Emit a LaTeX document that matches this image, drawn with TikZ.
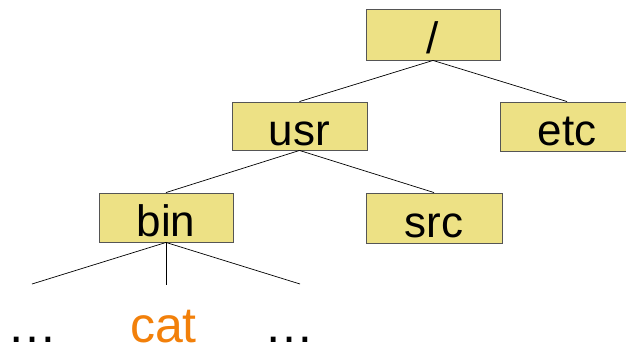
\documentclass[tikz,border=0pt]{standalone}
\usepackage{fontspec}
\setmainfont{Liberation Sans}
\definecolor{boxfill}{RGB}{237,225,133}
\definecolor{boxborder}{RGB}{85,85,85}
\definecolor{leaforange}{RGB}{242,128,10}
\begin{document}
\begin{tikzpicture}[x=1pt,y=-1pt,
  dirbox/.style={draw=boxborder, line width=0.9pt, fill=boxfill,
    minimum width=134pt, minimum height=49pt, inner sep=0pt,
    text height=38pt, text depth=0pt, font=\fontsize{44}{44}\selectfont},
  leaf/.style={inner sep=0pt, anchor=base, font=\fontsize{50}{50}\selectfont},
  edge/.style={draw=black, line width=0.7pt}]
  \useasboundingbox (0,0) rectangle (626,348);
  \clip (0,0) rectangle (626,348);

  % directory boxes
  \node[dirbox, minimum height=51pt] (root) at (433,34.5) {/};
  \node[dirbox, minimum width=135pt, minimum height=48pt] (usr) at (299.5,126) {usr};
  \node[dirbox] (etc) at (567,126.5) {etc};
  \node[dirbox] (bin) at (166,217.5) {bin};
  \node[dirbox, minimum width=136pt, minimum height=50pt] (src) at (434,218) {src};

  % open ends below bin
  \coordinate (b1) at (32,284);
  \coordinate (b2) at (166,285);
  \coordinate (b3) at (300,284);

  % entries shown under bin
  \node[leaf] (d1) at (32,342) {…};
  \node[leaf, text=leaforange] (cat) at (163.5,342) {cat};
  \node[leaf] (d2) at (289,342) {…};

  % tree edges
  \draw[edge] (root.south) -- (usr.north);
  \draw[edge] (root.south) -- (etc.north);
  \draw[edge] (usr.south) -- (bin.north);
  \draw[edge] (usr.south) -- (src.north);
  \draw[edge] (bin.south) -- (b1);
  \draw[edge] (bin.south) -- (b2);
  \draw[edge] (bin.south) -- (b3);
\end{tikzpicture}
\end{document}
